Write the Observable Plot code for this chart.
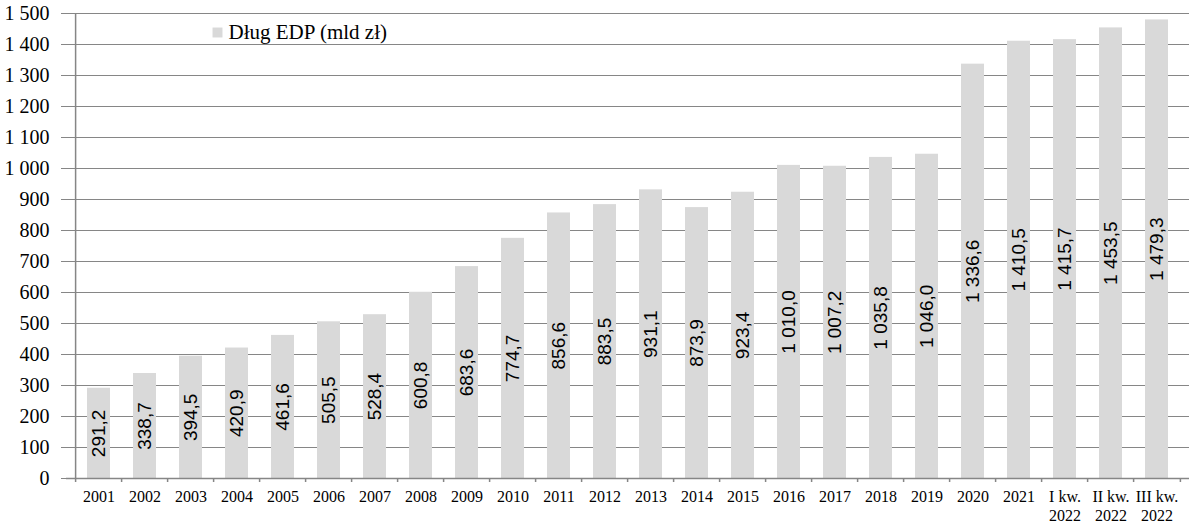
<!DOCTYPE html>
<html>
<head>
<meta charset="utf-8">
<script src="https://cdn.jsdelivr.net/npm/d3@7"></script>
<script src="https://cdn.jsdelivr.net/npm/@observablehq/plot@0.6"></script>
<style>
  html, body { margin: 0; padding: 0; background: #fff; }
</style>
</head>
<body>
<div id="chart"></div>
<script>
const categories = ["2001","2002","2003","2004","2005","2006","2007","2008","2009","2010","2011","2012","2013","2014","2015","2016","2017","2018","2019","2020","2021","I kw.\n2022","II kw.\n2022","III kw.\n2022"];
const values = [291.2,338.7,394.5,420.9,461.6,505.5,528.4,600.8,683.6,774.7,856.6,883.5,931.1,873.9,923.4,1010.0,1007.2,1035.8,1046.0,1336.6,1410.5,1415.7,1453.5,1479.3];
const yTicks = [0,100,200,300,400,500,600,700,800,900,1000,1100,1200,1300,1400,1500];
const seriesName = "Dług EDP (mld zł)";

const data = categories.map((c, i) => ({cat: c, value: values[i]}));
const loc = d3.formatLocale({decimal: ",", thousands: "\u00a0", grouping: [3]});
const fmtY = loc.format(",d");
const fmtV = loc.format(",.1f");

const W = 1196, H = 529, ML = 66, MR = 7, MT = 13, MB = 51;
const step = (W - ML - MR) / categories.length;
const gray = "#868686";

const chart = Plot.plot({
  width: W, height: H,
  marginLeft: ML, marginRight: MR, marginTop: MT, marginBottom: MB,
  style: {fontFamily: "'Liberation Serif', 'Times New Roman', serif", color: "#000", background: "#fff"},
  x: {domain: categories, paddingInner: 0.5, paddingOuter: 0.25, axis: null},
  y: {domain: [0, 1500], axis: null},
  marks: [
    Plot.gridY(yTicks, {stroke: gray, strokeOpacity: 1}),
    Plot.barY(data, {x: "cat", y: "value", fill: "#d9d9d9"}),
    Plot.text(data, {x: "cat", y: d => d.value / 2, text: d => fmtV(d.value), rotate: -90, fontSize: 19, fontFamily: "'Liberation Sans', Arial, sans-serif", fill: "#000"}),
    Plot.ruleY([0], {stroke: gray, strokeWidth: 1.5}),
    Plot.ruleX([categories[0]], {dx: -step / 2, stroke: gray, strokeWidth: 1.5}),
    Plot.axisY({ticks: yTicks, tickFormat: fmtY, tickSize: 5, tickPadding: 12, fontSize: 20, stroke: gray, fill: "#000", label: null}),
    Plot.axisX({tickSize: 0, tickPadding: 10, fontSize: 16, lineHeight: 1.2, fill: "#000", label: null}),
    Plot.axisX({tickSize: 4, tickFormat: () => "", dx: -step / 2, stroke: gray, strokeWidth: 1.5, label: null}),
    Plot.axisX({ticks: [categories[categories.length - 1]], tickSize: 4, tickFormat: () => "", dx: step / 2, stroke: gray, strokeWidth: 1.5, label: null}),
    Plot.dot([seriesName], {x: null, y: null, frameAnchor: "top-left", dx: 217 - ML, dy: 32 - MT, symbol: "square", r: 5.6, fill: "#d9d9d9", stroke: null}),
    Plot.text([seriesName], {frameAnchor: "top-left", dx: 228 - ML, dy: 32 - MT, text: d => d, textAnchor: "start", lineAnchor: "middle", fontSize: 21, fill: "#000"})
  ]
});
document.getElementById("chart").appendChild(chart);
</script>
</body>
</html>
